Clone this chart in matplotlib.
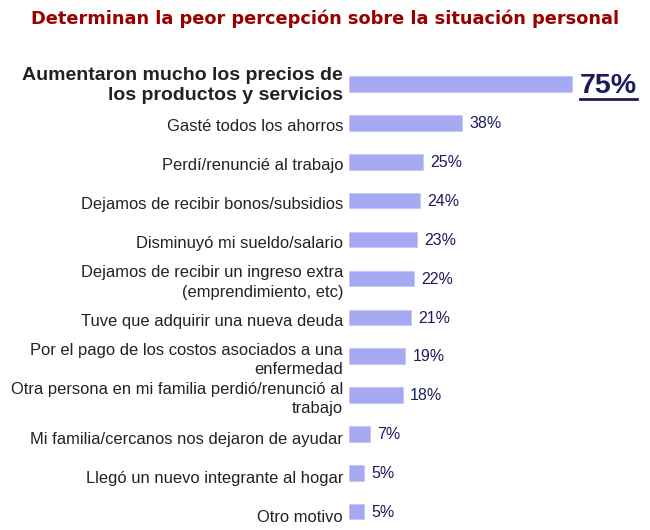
# Grafico: peor percepcion sobre la situacion personal
import numpy as np
import matplotlib.pyplot as plt
from matplotlib.lines import Line2D

# datos
etiquetas = [
    'Aumentaron mucho los precios de\nlos productos y servicios',
    'Gasté todos los ahorros',
    'Perdí/renuncié al trabajo',
    'Dejamos de recibir bonos/subsidios',
    'Disminuyó mi sueldo/salario',
    'Dejamos de recibir un ingreso extra\n(emprendimiento, etc)',
    'Tuve que adquirir una nueva deuda',
    'Por el pago de los costos asociados a una\nenfermedad',
    'Otra persona en mi familia perdió/renunció al\ntrabajo',
    'Mi familia/cercanos nos dejaron de ayudar',
    'Llegó un nuevo integrante al hogar',
    'Otro motivo',
]
valores = [75, 38, 25, 24, 23, 22, 21, 19, 18, 7, 5, 5]

titulo = 'Determinan la peor percepción sobre la situación personal'

color_barra = '#a4a9f2'
color_valor = '#1c1c5c'
color_texto = '#222222'

plt.rcParams['font.family'] = ['Liberation Sans', 'DejaVu Sans']

fig = plt.figure(figsize=(6.5, 5.3), dpi=100)
ax = fig.add_axes([0.537, -0.002, 0.457, 0.880])

y = np.arange(len(valores))
ax.barh(y, valores, height=0.4, color=color_barra, edgecolor='#c4c8f6', linewidth=0.6)
ax.set_xlim(0, 100)
ax.set_ylim(11.5, -0.5)
ax.axis('off')

# etiquetas de categorias
for i, (lab, v) in enumerate(zip(etiquetas, valores)):
    if i == 0:
        ax.text(-0.02, i + 0.03, lab, transform=ax.get_yaxis_transform(), ha='right', va='center',
                fontsize=14, fontweight='bold', color=color_texto, linespacing=1.2)
    else:
        dy = 0.1 if i < 9 else 0.15
        ax.text(-0.02, i + dy, lab, transform=ax.get_yaxis_transform(), ha='right', va='center',
                fontsize=11.9, color=color_texto, linespacing=1.4)

# valores
txt75 = None
for i, v in enumerate(valores):
    if i == 0:
        txt75 = ax.text(v + 2.7, i + 0.05, '%d%%' % v, ha='left', va='center', fontsize=20.5,
                        fontweight='bold', color=color_valor)
    else:
        ax.text(v + 2.4, i + 0.02, '%d%%' % v, ha='left', va='center', fontsize=11.5,
                color=color_valor)

fig.text(0.5, 0.964, titulo, ha='center', va='center', fontsize=12.8, fontweight='bold',
         color='#990000', family='DejaVu Sans')

# subrayado del 75%
fig.canvas.draw()
bb = txt75.get_window_extent().transformed(fig.transFigure.inverted())
yl = bb.y0 + 0.001
fig.add_artist(Line2D([bb.x0, bb.x1], [yl, yl], transform=fig.transFigure,
                      color=color_valor, linewidth=2))

fig.savefig('out.png', dpi=100)
